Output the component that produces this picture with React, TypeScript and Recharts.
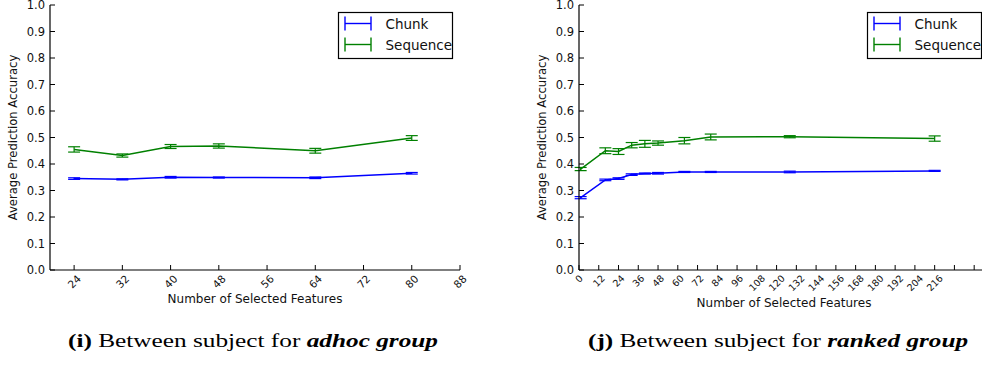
import React from 'react';
import { LineChart, Line, XAxis, YAxis, ErrorBar, Legend, Label } from 'recharts';

// ---- adhoc group ----
const adhocFeatures = [24, 32, 40, 48, 64, 80];
const adhocChunk = [0.345, 0.342, 0.35, 0.349, 0.348, 0.365];
const adhocChunkErr = [0.003, 0.002, 0.003, 0.002, 0.003, 0.003];
const adhocSequence = [0.455, 0.432, 0.466, 0.468, 0.45, 0.498];
const adhocSequenceErr = [0.01, 0.006, 0.0075, 0.008, 0.009, 0.009];
const adhocTicks = [24, 32, 40, 48, 56, 64, 72, 80, 88];

// ---- ranked group ----
const rankedFeatures = [1, 16, 24, 32, 40, 48, 64, 80, 128, 216];
const rankedChunk = [0.273, 0.34, 0.345, 0.36, 0.364, 0.365, 0.37, 0.37, 0.37, 0.374];
const rankedChunkErr = [0.004, 0.003, 0.003, 0.003, 0.002, 0.003, 0.002, 0.002, 0.003, 0.002];
const rankedSequence = [0.381, 0.45, 0.447, 0.471, 0.476, 0.479, 0.488, 0.502, 0.503, 0.496];
const rankedSequenceErr = [0.006, 0.011, 0.011, 0.01, 0.013, 0.008, 0.012, 0.011, 0.004, 0.01];
const rankedTicks = [0, 12, 24, 36, 48, 60, 72, 84, 96, 108, 120, 132, 144, 156, 168, 180, 192, 204, 216, 228, 240];
const rankedLastLabel = 216;

const yTicks = [0, 0.1, 0.2, 0.3, 0.4, 0.5, 0.6, 0.7, 0.8, 0.9, 1.0];

const CHUNK_COLOR = '#0000ff';
const SEQUENCE_COLOR = '#008000';
const FONT = '"DejaVu Sans", sans-serif';
const TICK_LEN = 5;

type Row = { x: number; chunk: number; chunkErr: number; sequence: number; sequenceErr: number };

const buildRows = (
  xs: number[],
  chunk: number[],
  chunkErr: number[],
  sequence: number[],
  sequenceErr: number[],
): Row[] =>
  xs.map((x, i) => ({
    x,
    chunk: chunk[i],
    chunkErr: chunkErr[i],
    sequence: sequence[i],
    sequenceErr: sequenceErr[i],
  }));

const adhocRows = buildRows(adhocFeatures, adhocChunk, adhocChunkErr, adhocSequence, adhocSequenceErr);
const rankedRows = buildRows(rankedFeatures, rankedChunk, rankedChunkErr, rankedSequence, rankedSequenceErr);

// Inward tick marks with rotated labels underneath
const makeBottomTick = (fontSize: number, lastLabel: number) => (props: any) => {
  const { x, y, payload } = props;
  const v = payload.value as number;
  const label = v <= lastLabel ? String(v) : '';
  const w = label.length * 0.636 * fontSize;
  const h = 0.73 * fontSize;
  const off = 4 + (w + h) / (2 * Math.SQRT2);
  return (
    <g>
      <line x1={x} y1={y} x2={x} y2={y - TICK_LEN} stroke="#000" strokeWidth={1} />
      {label && (
        <text
          transform={`translate(${x},${y + off}) rotate(-45)`}
          textAnchor="middle"
          dominantBaseline="central"
          fontSize={fontSize}
          fontFamily={FONT}
          fill="#111"
        >
          {label}
        </text>
      )}
    </g>
  );
};

const TopTick = (props: any) => {
  const { x, y } = props;
  return <line x1={x} y1={y} x2={x} y2={y + TICK_LEN} stroke="#000" strokeWidth={1} />;
};

const LeftTick = (props: any) => {
  const { x, y, payload } = props;
  return (
    <g>
      <line x1={x} y1={y} x2={x + TICK_LEN} y2={y} stroke="#000" strokeWidth={1} />
      <text
        x={x - 5}
        y={y}
        textAnchor="end"
        dominantBaseline="central"
        fontSize={11.5}
        fontFamily={FONT}
        fill="#111"
      >
        {(payload.value as number).toFixed(1)}
      </text>
    </g>
  );
};

const RightTick = (props: any) => {
  const { x, y } = props;
  return <line x1={x} y1={y} x2={x - TICK_LEN} y2={y} stroke="#000" strokeWidth={1} />;
};

const LegendBox = (props: any) => {
  const payload = (props.payload || []) as any[];
  return (
    <svg width={116} height={48} style={{ display: 'block', overflow: 'visible' }}>
      <rect x={0.5} y={0.5} width={114} height={46} fill="#fff" stroke="#000" strokeWidth={1.2} />
      {payload.map((p, i) => {
        const cy = 11.5 + i * 21;
        return (
          <g key={String(p.value)} stroke={p.color} strokeWidth={1.4}>
            <line x1={7} x2={33} y1={cy} y2={cy} />
            <line x1={7} x2={7} y1={cy - 7} y2={cy + 7} />
            <line x1={33} x2={33} y1={cy - 7} y2={cy + 7} />
            <text
              x={47.5}
              y={cy}
              dominantBaseline="central"
              fontSize={13.5}
              fontFamily={FONT}
              fill="#111"
              stroke="none"
            >
              {p.value}
            </text>
          </g>
        );
      })}
    </svg>
  );
};

type PanelProps = {
  rows: Row[];
  domain: [number, number];
  ticks: number[];
  tickFont: number;
  lastLabel: number;
  xLabelGap: number;
};

const CHART_W = 480;
const CHART_H = 320;
const MARGIN = { top: 5, right: 20, bottom: 0, left: 10 };
const Y_AXIS_W = 40;
const X_AXIS_H = 50;

function Panel({ rows, domain, ticks, tickFont, lastLabel, xLabelGap }: PanelProps) {
  const plotRight = CHART_W - MARGIN.right;
  return (
    <LineChart width={CHART_W} height={CHART_H} data={rows} margin={MARGIN}>
      <XAxis
        dataKey="x"
        type="number"
        domain={domain}
        ticks={ticks}
        interval={0}
        allowDataOverflow
        height={X_AXIS_H}
        tickSize={0}
        tickMargin={0}
        tickLine={false}
        axisLine={{ stroke: '#000', strokeWidth: 1.2 }}
        tick={makeBottomTick(tickFont, lastLabel)}
      >
        <Label
          content={(p: any) => {
            const vb = p.viewBox || {};
            return (
              <text
                x={vb.x + vb.width / 2}
                y={vb.y + xLabelGap}
                textAnchor="middle"
                fontSize={12}
                fontFamily={FONT}
                fill="#111"
              >
                Number of Selected Features
              </text>
            );
          }}
        />
      </XAxis>
      <XAxis
        xAxisId="top"
        orientation="top"
        dataKey="x"
        type="number"
        domain={domain}
        ticks={ticks}
        interval={0}
        allowDataOverflow
        height={0}
        tickSize={0}
        tickMargin={0}
        tickLine={false}
        axisLine={{ stroke: '#000', strokeWidth: 1.2 }}
        tick={TopTick}
      />
      <YAxis
        type="number"
        domain={[0, 1]}
        ticks={yTicks}
        interval={0}
        width={Y_AXIS_W}
        tickSize={0}
        tickMargin={0}
        tickLine={false}
        axisLine={{ stroke: '#000', strokeWidth: 1.2 }}
        tick={LeftTick}
      >
        <Label
          content={(p: any) => {
            const vb = p.viewBox || {};
            const cx = vb.x + vb.width - 37.5;
            const cy = vb.y + vb.height / 2;
            return (
              <text
                transform={`translate(${cx},${cy}) rotate(-90)`}
                textAnchor="middle"
                dominantBaseline="central"
                fontSize={11.6}
                fontFamily={FONT}
                fill="#111"
              >
                Average Prediction Accuracy
              </text>
            );
          }}
        />
      </YAxis>
      <YAxis
        yAxisId="right"
        orientation="right"
        type="number"
        domain={[0, 1]}
        ticks={yTicks}
        interval={0}
        width={0}
        tickSize={0}
        tickMargin={0}
        tickLine={false}
        axisLine={{ stroke: '#000', strokeWidth: 1.2 }}
        tick={RightTick}
      />
      <Legend
        layout="vertical"
        align="center"
        verticalAlign="middle"
        content={LegendBox}
        wrapperStyle={{ position: 'absolute', left: plotRight - 7.3 - 114.4, top: 12, width: 116, height: 48 }}
      />
      <Line
        type="linear"
        dataKey="chunk"
        name="Chunk"
        stroke={CHUNK_COLOR}
        strokeWidth={1.5}
        dot={false}
        isAnimationActive={false}
      >
        <ErrorBar dataKey="chunkErr" width={6} stroke={CHUNK_COLOR} strokeWidth={1.2} direction="y" isAnimationActive={false} />
      </Line>
      <Line
        type="linear"
        dataKey="sequence"
        name="Sequence"
        stroke={SEQUENCE_COLOR}
        strokeWidth={1.5}
        dot={false}
        isAnimationActive={false}
      >
        <ErrorBar dataKey="sequenceErr" width={6} stroke={SEQUENCE_COLOR} strokeWidth={1.2} direction="y" isAnimationActive={false} />
      </Line>
    </LineChart>
  );
}

const CAPTION_FONT = '"Liberation Serif", serif';

export default function App() {
  return (
    <div
      style={{
        position: 'absolute',
        left: 0,
        top: 0,
        width: 982,
        height: 366,
        overflow: 'hidden',
        background: '#fff',
      }}
    >
      <div style={{ position: 'absolute', left: 0, top: 0 }}>
        <Panel rows={adhocRows} domain={[20, 88]} ticks={adhocTicks} tickFont={10.5} lastLabel={88} xLabelGap={33} />
      </div>
      <div style={{ position: 'absolute', left: 529, top: 0 }}>
        <Panel
          rows={rankedRows}
          domain={[0, 249]}
          ticks={rankedTicks}
          tickFont={9.5}
          lastLabel={rankedLastLabel}
          xLabelGap={37}
        />
      </div>
      <svg width={982} height={366} style={{ position: 'absolute', left: 0, top: 0, pointerEvents: 'none' }}>
        <text
          x={253}
          y={347}
          textAnchor="middle"
          fontSize={19}
          fontFamily={CAPTION_FONT}
          fill="#000"
          textLength={370}
          lengthAdjust="spacingAndGlyphs"
        >
          <tspan fontWeight="bold">(i)</tspan>
          <tspan> Between subject for </tspan>
          <tspan fontWeight="bold" fontStyle="italic">adhoc group</tspan>
        </text>
        <text
          x={778}
          y={347}
          textAnchor="middle"
          fontSize={19}
          fontFamily={CAPTION_FONT}
          fill="#000"
          textLength={380}
          lengthAdjust="spacingAndGlyphs"
        >
          <tspan fontWeight="bold">(j)</tspan>
          <tspan> Between subject for </tspan>
          <tspan fontWeight="bold" fontStyle="italic">ranked group</tspan>
        </text>
      </svg>
    </div>
  );
}
